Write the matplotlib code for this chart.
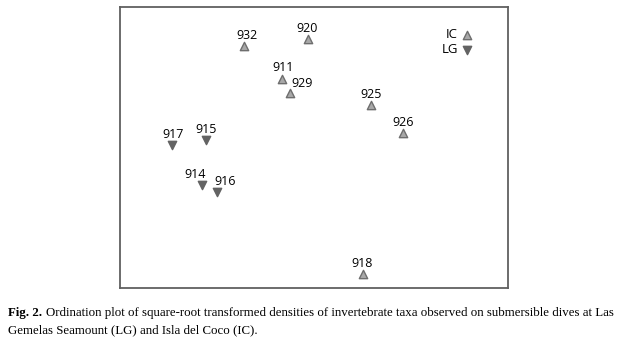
import matplotlib
matplotlib.use("Agg")
from matplotlib import pyplot as plt

# ordination scores (arbitrary units)
ic_labels = ["932", "920", "911", "929", "925", "926", "918"]
ic_x = [-0.43, -0.04, -0.20, -0.15, 0.35, 0.55, 0.30]
ic_y = [0.72, 0.77, 0.49, 0.39, 0.30, 0.10, -0.90]

lg_labels = ["917", "915", "914", "916"]
lg_x = [-0.88, -0.67, -0.69, -0.60]
lg_y = [0.02, 0.05, -0.27, -0.32]

# label offsets in points (dx, dy) relative to each marker
ic_offsets = [(2, 3), (0, 3), (1, 3), (9, 2), (0, 3), (0, 3), (0, 3)]
lg_offsets = [(1, 3), (0, 3), (-5, 3), (6, 3)]

caption_bold = "Fig. 2."
caption_line1 = ("Ordination plot of square-root transformed densities of invertebrate taxa "
                 "observed on submersible dives at Las")
caption_line2 = "Gemelas Seamount (LG) and Isla del Coco (IC)."


def draw_plot():
    fig = plt.figure(figsize=(6.31, 3.46), dpi=100)
    ax = fig.add_axes([120 / 631, 1 - 288 / 346, 388 / 631, 281 / 346])
    ax.set_xlim(-1.2, 1.2)
    ax.set_ylim(-1.0, 1.0)
    ax.set_xticks([])
    ax.set_yticks([])
    for s in ax.spines.values():
        s.set_color("#606060")
        s.set_linewidth(1.3)

    ax.scatter(ic_x, ic_y, marker="^", s=36, facecolor="#a8a8a8",
               edgecolor="#6e6e6e", linewidth=1.0, label="IC", zorder=3)
    ax.scatter(lg_x, lg_y, marker="v", s=36, facecolor="#636363",
               edgecolor="#636363", linewidth=1.0, label="LG", zorder=3)

    for lab, x, y, off in zip(ic_labels, ic_x, ic_y, ic_offsets):
        ax.annotate(lab, (x, y), xytext=off, textcoords="offset points",
                    ha="center", va="bottom", fontsize=9, family="Open Sans")
    for lab, x, y, off in zip(lg_labels, lg_x, lg_y, lg_offsets):
        ax.annotate(lab, (x, y), xytext=off, textcoords="offset points",
                    ha="center", va="bottom", fontsize=9, family="Open Sans")

    ax.legend(loc="upper right", frameon=False, markerfirst=False,
              prop={"family": "Open Sans", "size": 9.5},
              handletextpad=0.2, labelspacing=0.15,
              bbox_to_anchor=(474 / 631, 1 - 28 / 346),
              bbox_transform=fig.transFigure,
              borderaxespad=0, borderpad=0, handlelength=1.0)

    # caption
    y1 = 1 - 313 / 346
    y2 = 1 - 330 / 346
    fs = 9.3
    tb = fig.text(8 / 631, y1, caption_bold, fontsize=fs, weight="bold",
                  family="Liberation Serif", va="center")
    fig.canvas.draw()
    bb = tb.get_window_extent()
    x0 = (bb.x1 + 4) / 631
    fig.text(x0, y1, caption_line1, fontsize=fs, family="Liberation Serif", va="center")
    fig.text(8 / 631, y2, caption_line2, fontsize=fs, family="Liberation Serif", va="center")

    fig.savefig("out.png", dpi=100)


if __name__ == '__main__':
    draw_plot()
